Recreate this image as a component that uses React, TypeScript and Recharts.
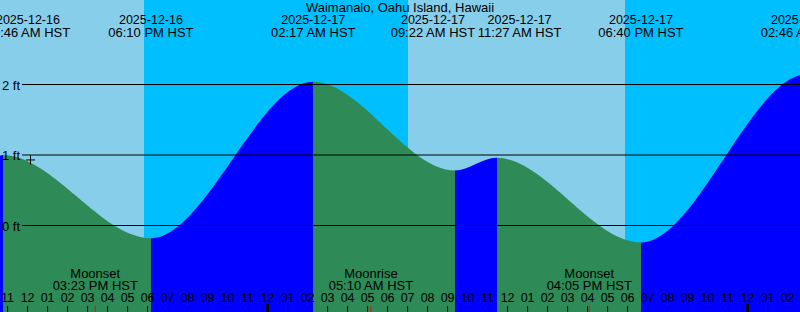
import React from "react";
import {
  AreaChart,
  Area,
  XAxis,
  YAxis,
  ReferenceArea,
  ReferenceLine,
  ReferenceDot,
} from "recharts";

const TITLE = "Waimanalo, Oahu Island, Hawaii";

// all times are hours from 2025-12-17 00:00 HST
const TIDE_HOURS = [-13.38, -13.233, -5.833, 2.283, 9.367, 11.45, 18.667, 26.62, 26.767];
const TIDE_FEET = [0.99, 1.0, -0.18, 2.04, 0.78, 0.96, -0.24, 2.13, 2.14];

const EVENT_HOURS = [-13.233, -5.833, 2.283, 9.367, 11.45, 18.667, 26.767];
const EVENT_DATES = [
  "2025-12-16",
  "2025-12-16",
  "2025-12-17",
  "2025-12-17",
  "2025-12-17",
  "2025-12-17",
  "2025-12-18",
];
const EVENT_TIMES = [
  "10:46 AM HST",
  "06:10 PM HST",
  "02:17 AM HST",
  "09:22 AM HST",
  "11:27 AM HST",
  "06:40 PM HST",
  "02:46 AM HST",
];

// sunset, sunrise, sunset
const SUN_HOURS = [-6.18, 7.02, 17.87];

const MOON_HOURS = [-8.617, 5.167, 16.083];
const MOON_NAMES = ["Moonset", "Moonrise", "Moonset"];
const MOON_TIMES = ["03:23 PM HST", "05:10 AM HST", "04:05 PM HST"];

const HOUR_TICKS = [
  -13, -12, -11, -10, -9, -8, -7, -6, -5, -4, -3, -2, -1, 0, 1, 2, 3, 4, 5, 6,
  7, 8, 9, 10, 11, 12, 13, 14, 15, 16, 17, 18, 19, 20, 21, 22, 23, 24, 25, 26,
];
const FEET_LINES = [0, 1, 2];

const NOW_HOUR = -11.855;
const NOW_FEET = 0.93;

// layout
const W = 800;
const H = 312;
const X_MIN = -13.38;
const X_MAX = 26.62;
const Y_MIN = -1.227;
const Y_MAX = 3.199;
const LINE_START = X_MIN + 22 / 20;
const LABEL_SHIFT = [25, 0, 0, -22, 23, 0, 0];
const FONT = "'Liberation Sans', Arial, sans-serif";
const DAY = "#87CEEB";
const NIGHT = "#00BFFF";
const RISING = "#0000FF";
const FALLING = "#2E8B57";

const data = TIDE_HOURS.map((hour, i) => ({ hour, feet: TIDE_FEET[i] }));

const bandEdges = [X_MIN, ...SUN_HOURS, X_MAX];
const bands = bandEdges.slice(0, -1).map((x1, i) => ({
  x1,
  x2: bandEdges[i + 1],
  fill: i % 2 === 0 ? DAY : NIGHT,
}));

const span = TIDE_HOURS[TIDE_HOURS.length - 1] - TIDE_HOURS[0];
const stops = TIDE_HOURS.slice(0, -1).flatMap((h, i) => {
  const color = TIDE_FEET[i + 1] >= TIDE_FEET[i] ? RISING : FALLING;
  return [
    { offset: (h - TIDE_HOURS[0]) / span, color },
    { offset: (TIDE_HOURS[i + 1] - TIDE_HOURS[0]) / span, color },
  ];
});

const hourTick = (value: number) => (p: any) => {
  const h = ((value % 24) + 24) % 24;
  const label = String(h % 12 === 0 ? 12 : h % 12).padStart(2, "0");
  const midnight = h === 0;
  return (
    <g>
      <text x={p.cx} y={301.5} textAnchor="middle" fontSize={12.5} fill="#000" fontFamily={FONT}>
        {label}
      </text>
      <line
        x1={p.cx}
        x2={p.cx}
        y1={midnight ? 304 : 306}
        y2={H}
        stroke="#000"
        strokeWidth={midnight ? 3 : 1}
      />
    </g>
  );
};

const tideLabel = (i: number) => (p: any) => (
  <g fontFamily={FONT} fill="#000" textAnchor="middle">
    <text x={p.cx + LABEL_SHIFT[i]} y={24.3} fontSize={12.5}>
      {EVENT_DATES[i]}
    </text>
    <text x={p.cx + LABEL_SHIFT[i]} y={36.7} fontSize={13}>
      {EVENT_TIMES[i]}
    </text>
  </g>
);

const moonLabel = (i: number) => (p: any) => (
  <g fontFamily={FONT} fill="#000" textAnchor="middle">
    <text x={p.cx} y={278.3} fontSize={13}>
      {MOON_NAMES[i]}
    </text>
    <text x={p.cx} y={290} fontSize={13}>
      {MOON_TIMES[i]}
    </text>
    <line x1={p.cx} x2={p.cx} y1={306} y2={H} stroke="#ff0000" strokeWidth={1} />
  </g>
);

const feetLabel = (v: number) => (p: any) => (
  <text x={p.cx + 20} y={p.cy + 5} textAnchor="end" fontSize={13} fill="#000" fontFamily={FONT}>
    {v} ft
  </text>
);

const nowMark = (p: any) => (
  <g stroke="#000" strokeWidth={1}>
    <line x1={p.cx - 4.5} x2={p.cx + 4.5} y1={p.cy} y2={p.cy} />
    <line x1={p.cx} x2={p.cx} y1={p.cy - 4.5} y2={p.cy + 4.5} />
  </g>
);

export default function App() {
  return (
    <div style={{ position: "absolute", left: 0, top: 0, width: W, height: H }}>
      <AreaChart width={W} height={H} data={data} margin={{ top: 0, right: 0, bottom: 0, left: 0 }}>
        <defs>
          <linearGradient id="tideFill" x1="0" y1="0" x2="1" y2="0">
            {stops.map((s, i) => (
              <stop key={i} offset={s.offset} stopColor={s.color} />
            ))}
          </linearGradient>
        </defs>
        <XAxis
          hide
          dataKey="hour"
          type="number"
          domain={[X_MIN, X_MAX]}
          allowDataOverflow
        />
        <YAxis hide type="number" domain={[Y_MIN, Y_MAX]} allowDataOverflow />
        {bands.map((b, i) => (
          <ReferenceArea
            key={i}
            x1={b.x1}
            x2={b.x2}
            y1={Y_MIN}
            y2={Y_MAX}
            fill={b.fill}
            fillOpacity={1}
            stroke="none"
            zIndex={-100}
          />
        ))}
        <Area
          type="monotone"
          dataKey="feet"
          stroke="none"
          fill="url(#tideFill)"
          fillOpacity={1}
          baseValue={Y_MIN}
          isAnimationActive={false}
          dot={false}
          activeDot={false}
        />
        {FEET_LINES.map((v) => (
          <ReferenceLine
            key={v}
            segment={[
              { x: LINE_START, y: v },
              { x: X_MAX, y: v },
            ]}
            stroke="#000"
            strokeWidth={1}
            zIndex={450}
          />
        ))}
        {FEET_LINES.map((v) => (
          <ReferenceDot key={"f" + v} x={X_MIN} y={v} ifOverflow="visible" shape={feetLabel(v)} />
        ))}
        {HOUR_TICKS.map((h) => (
          <ReferenceDot key={"h" + h} x={h} y={Y_MIN} ifOverflow="visible" shape={hourTick(h)} />
        ))}
        {EVENT_HOURS.map((h, i) => (
          <ReferenceDot key={"e" + i} x={h} y={Y_MAX} ifOverflow="visible" shape={tideLabel(i)} />
        ))}
        {MOON_HOURS.map((h, i) => (
          <ReferenceDot key={"m" + i} x={h} y={Y_MIN} ifOverflow="visible" shape={moonLabel(i)} />
        ))}
        <ReferenceDot x={NOW_HOUR} y={NOW_FEET} ifOverflow="visible" shape={nowMark} />
        <text x={400} y={12} textAnchor="middle" fontSize={13} fill="#000" fontFamily={FONT}>
          {TITLE}
        </text>
      </AreaChart>
    </div>
  );
}
